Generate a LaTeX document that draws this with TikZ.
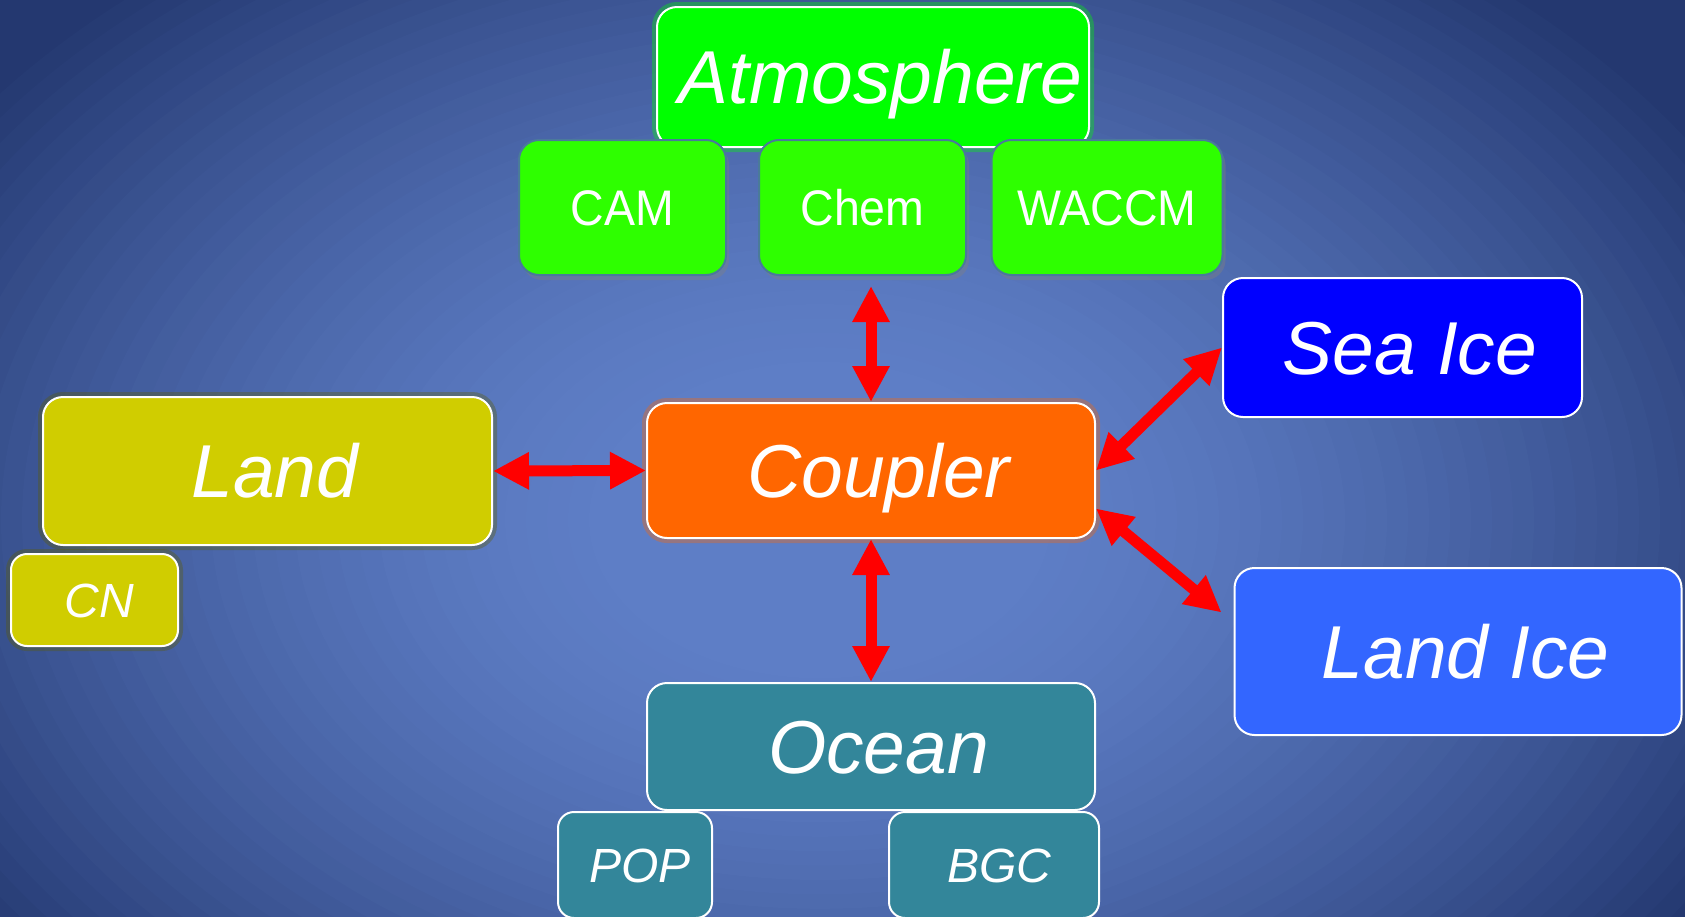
\documentclass[tikz,border=0pt]{standalone}
\usepackage{fontspec}
\setmainfont{Liberation Sans}
\newfontfamily\narrowfont[FakeStretch=0.93]{Liberation Sans}
\usetikzlibrary{arrows.meta,shadows}
\definecolor{bgA}{HTML}{5E7EC6}
\definecolor{bgE}{HTML}{243870}
\definecolor{atmgreen}{HTML}{00FF00}
\definecolor{subgreen}{HTML}{2EFF00}
\definecolor{subedge}{HTML}{4A7A9A}
\definecolor{seaicec}{HTML}{0000FF}
\definecolor{landicec}{HTML}{3366FF}
\definecolor{couplerc}{HTML}{FF6600}
\definecolor{landc}{HTML}{D0CD00}
\definecolor{oceanc}{HTML}{33869A}
\definecolor{arrowred}{HTML}{FF0000}
\tikzset{
  box/.style={rounded corners=20pt, draw=white, line width=2pt, text=white,
    align=center, inner sep=0pt, text depth=0pt},
  bigbox/.style={box, font=\fontsize{75pt}{78pt}\selectfont\itshape, text height=53.5pt,
    execute at begin node=\hspace*{15pt}},
  smallbox/.style={box, rounded corners=16pt, font=\fontsize{48pt}{52pt}\selectfont\itshape,
    text height=34.5pt, execute at begin node=\hspace*{10pt}},
  subbox/.style={rounded corners=20pt, draw=subedge, line width=2pt, fill=subgreen,
    text=white, inner sep=0pt, text depth=0pt, text height=35pt,
    font=\narrowfont\fontsize{50pt}{54pt}\selectfont,
    drop shadow={shadow xshift=3pt, shadow yshift=-5pt, opacity=0.4}},
  glow/.style={preaction={draw=#1, line width=10pt, draw opacity=0.35}},
  link/.style={draw=arrowred, line width=11pt,
    {Triangle[width=35pt,length=36pt]}-{Triangle[width=35pt,length=36pt]}}
}
\begin{document}
\begin{tikzpicture}[x=1pt,y=-1pt]
\useasboundingbox (0,0) rectangle (1685,916);
\begin{scope}
  \clip (0,0) rectangle (1685,916);
  \fill[bgE] (0,0) rectangle (1685,916);
  \foreach \i in {62,61,...,1} {
    \pgfmathsetmacro\rr{\i/50}
    \pgfmathsetmacro\ss{max(0,min(1,(\rr-0.2)/0.8))}
    \pgfmathsetmacro\pp{100*(1-\ss*sqrt(\ss))}
    \fill[bgA!\pp!bgE] (820,520) ellipse [x radius=\rr*1050pt, y radius=\rr*720pt];
  }
\end{scope}

% Atmosphere group
\node[bigbox, fill=atmgreen, glow=atmgreen, minimum width=432pt, minimum height=140pt] (atm) at (873,77) {Atmosphere};
\node[subbox, minimum width=207pt, minimum height=135pt] (cam) at (622.5,207.5) {CAM};
\node[subbox, minimum width=207pt, minimum height=135pt] (chem) at (862.5,207.5) {Chem};
\node[subbox, minimum width=231pt, minimum height=135pt] (waccm) at (1107,207.5) {WACCM};

% Sea ice
\node[bigbox, fill=seaicec, minimum width=359pt, minimum height=139pt] (seaice) at (1402.5,347.5) {Sea Ice};

% Coupler
\node[bigbox, fill=couplerc, glow=couplerc, minimum width=448pt, minimum height=135pt] (coupler) at (871,470.5) {Coupler};

% Land group
\node[bigbox, fill=landc, glow=black!55!landc, minimum width=449pt, minimum height=148pt] (land) at (267.5,471) {Land};
\node[smallbox, fill=landc, glow=black!55!landc, minimum width=167pt, minimum height=92pt] (cn) at (94.5,600) {CN};

% Land ice
\node[bigbox, fill=landicec, minimum width=447pt, minimum height=167pt] (landice) at (1458,651.5) {Land Ice};

% Ocean group
\node[bigbox, fill=oceanc, minimum width=448pt, minimum height=127pt] (ocean) at (871,746.5) {Ocean};
\node[smallbox, fill=oceanc, minimum width=154pt, minimum height=106pt] (pop) at (635,865) {POP};
\node[smallbox, fill=oceanc, minimum width=210pt, minimum height=106pt] (bgc) at (994,865) {BGC};

% Connectors
\draw[link, shorten >=10pt] (coupler.north) -- (coupler.north |- chem.south);
\draw[link] (coupler.south) -- (ocean.north);
\draw[link] (land.east) -- (coupler.west);
\draw[link] (coupler.east) -- (seaice.west);
\draw[link] ([yshift=-38pt]coupler.east) -- ([xshift=-12pt,yshift=39pt]landice.west);
\end{tikzpicture}
\end{document}
